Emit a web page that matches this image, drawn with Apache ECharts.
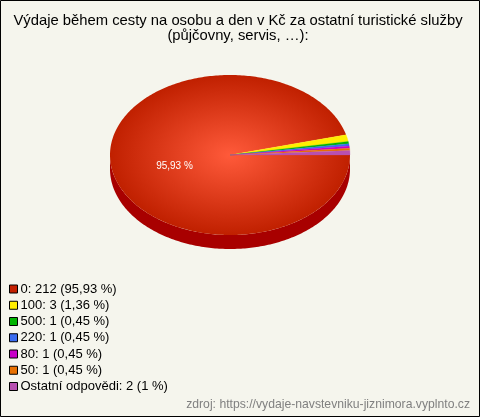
<!DOCTYPE html>
<html><head><meta charset="utf-8">
<style>html,body{margin:0;padding:0;background:#f5f5ed}#c{width:480px;height:417px}</style>
<script src="https://cdn.jsdelivr.net/npm/echarts@6/dist/echarts.min.js"></script>
</head><body><div id="c"></div>
<script>
var titleLines = ['Výdaje během cesty na osobu a den v Kč za ostatní turistické služby', '(půjčovny, servis, …):'];
var sliceNames = ['0', '100', '500', '220', '80', '50', 'Ostatní odpovědi'];
var sliceCounts = [212, 3, 1, 1, 1, 1, 2];
var slicePercents = ['95,93', '1,36', '0,45', '0,45', '0,45', '0,45', '1'];
var sliceColors = ['#c42000', '#ffee00', '#00b400', '#3a6cf0', '#c800c8', '#e87000', '#b850b0'];
var source = 'zdroj: https://vydaje-navstevniku-jiznimora.vyplnto.cz';

var FONT = '"Liberation Sans", Arial, sans-serif';
var CX = 230, CY = 155, RX = 120, RY = 80, DEPTH = 14;
var total = sliceCounts.reduce(function (a, b) { return a + b; }, 0);

function arc(a0, a1, cx, cy, ry) {
  var pts = [], n = Math.max(2, Math.ceil((a1 - a0) * 60));
  for (var i = 0; i <= n; i++) {
    var a = a0 + (a1 - a0) * i / n;
    pts.push([cx + RX * Math.cos(a), cy + ry * Math.sin(a)]);
  }
  return pts;
}

var cum = 0;
var series = sliceNames.map(function (name, idx) {
  var a0 = cum / total * 2 * Math.PI;
  cum += sliceCounts[idx];
  var a1 = cum / total * 2 * Math.PI;
  return {
    type: 'custom', coordinateSystem: 'none', name: name + ': ' + sliceCounts[idx] + ' (' + slicePercents[idx] + ' %)',
    itemStyle: { color: sliceColors[idx] },
    data: [[sliceCounts[idx]]],
    animation: false, silent: true,
    renderItem: function () {
      var children = [];
      if (idx === 0) {
        var top = arc(0, Math.PI, CX, CY, RY);
        var bot = arc(0, Math.PI, CX, CY + DEPTH, RY).reverse();
        children.push({ type: 'polygon', shape: { points: top.concat(bot) }, style: { fill: '#a80000' } });
      }
      var fill = idx === 0 ? { type: 'radial', x: CX, y: CY, r: RX, global: true,
        colorStops: [{ offset: 0, color: '#ff5a3a' }, { offset: 1, color: '#c02000' }] } : sliceColors[idx];
      // the face is drawn round and squashed so that the gradient follows the ellipse
      children.push({
        type: 'polygon', originX: CX, originY: CY, scaleY: RY / RX,
        shape: { points: [[CX, CY]].concat(arc(a0, a1, CX, CY, RX)) },
        style: { fill: fill, stroke: idx === 0 ? null : sliceColors[idx], lineWidth: 0.3 }
      });
      if (idx === 0) {
        children.push({ type: 'text', style: { text: slicePercents[0] + ' %', x: 174.5, y: 166, fill: '#fff', font: '10px ' + FONT, align: 'center', verticalAlign: 'middle' } });
      }
      return { type: 'group', children: children };
    }
  };
});

var chart = echarts.init(document.getElementById('c'), null, { renderer: 'canvas' });
chart.setOption({
  backgroundColor: '#f5f5ed',
  animation: false,
  title: {
    text: titleLines.join('\n'), left: 233, top: 8, textAlign: 'center',
    textStyle: { fontFamily: FONT, fontSize: 14.8, fontWeight: 'normal', color: '#000', lineHeight: 15 }
  },
  legend: {
    orient: 'vertical', left: 9, top: 282, itemWidth: 8, itemHeight: 8, itemGap: 2.25, padding: 0,
    icon: 'rect', selectedMode: false,
    itemStyle: { borderColor: '#000', borderWidth: 1 },
    textStyle: { fontFamily: FONT, fontSize: 13, color: '#000', padding: [0, 0, 0, -2], lineHeight: 14 },
    data: series.map(function (s) { return s.name; })
  },
  graphic: [
    { type: 'rect', silent: true, shape: { x: 0.5, y: 0.5, width: 479, height: 416 }, style: { fill: 'none', stroke: '#000', lineWidth: 1 } },
    { type: 'text', silent: true, right: 10, top: 399, style: { text: source, font: '12.2px ' + FONT, fill: '#808080' } }
  ],
  series: series
});
</script></body></html>
